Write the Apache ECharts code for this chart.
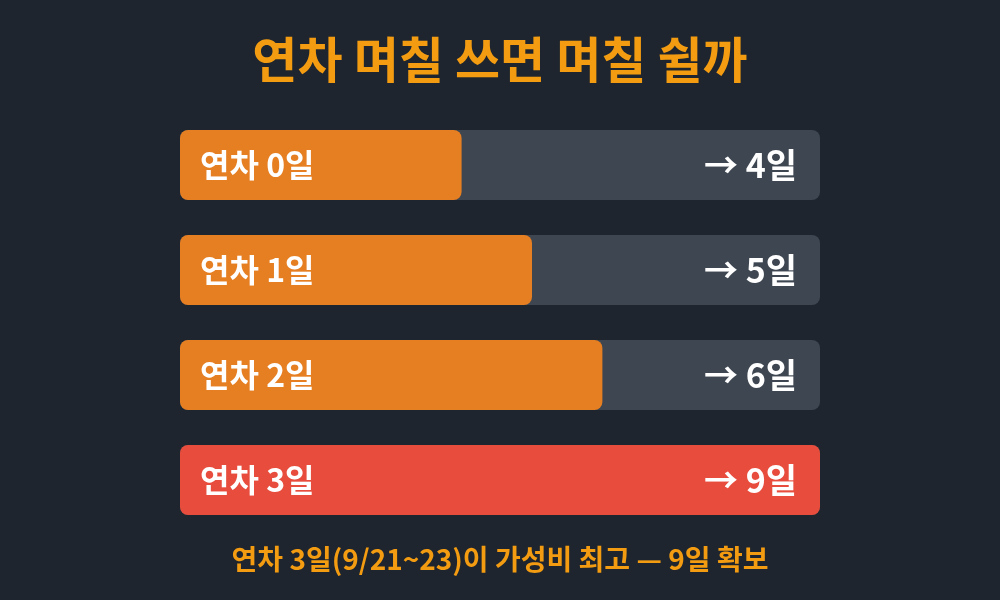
<!DOCTYPE html>
<html>
<head>
<meta charset="utf-8">
<script src="https://cdn.jsdelivr.net/npm/echarts@6/dist/echarts.min.js"></script>
<style>
  html, body { margin: 0; padding: 0; background: #1e252e; }
  #chart { width: 1000px; height: 600px; }
</style>
</head>
<body>
<div id="chart"></div>
<script>
// data
let leaveLabels = ['연차 0일', '연차 1일', '연차 2일', '연차 3일']
let restDays = [4, 5, 6, 9]
// 막대 길이(%) - 그림에서 읽은 값
let barPercent = [44, 55, 66, 100]
let barColors = ['#e67e22', '#e67e22', '#e67e22', '#e74c3c']

let myChart = echarts.init(document.getElementById('chart'))
let fontFamily = '"Noto Sans CJK KR", "Noto Sans", sans-serif'

let option = {
    backgroundColor: '#1e252e',
    textStyle: { fontFamily: fontFamily },
    title: [{
        text: '연차 며칠 쓰면 며칠 쉴까',
        left: 'center',
        top: 30,
        textStyle: { color: '#f39c12', fontSize: 49, fontWeight: 'bold', fontFamily: fontFamily }
    }, {
        text: '연차 3일(9/21~23)이 가성비 최고 — 9일 확보',
        left: 'center',
        top: 540,
        textStyle: { color: '#f39c12', fontSize: 28, fontWeight: 'bold', fontFamily: fontFamily }
    }],
    grid: { left: 180, right: 180, top: 112.5, height: 420 },
    xAxis: { type: 'value', min: 0, max: 100, show: false },
    yAxis: {
        type: 'category',
        data: leaveLabels,
        inverse: true,
        show: false
    },
    series: [{
        // 쉬는 날 막대
        type: 'bar',
        barWidth: 70,
        data: barPercent.map((v, i) => ({ value: v, itemStyle: { color: barColors[i] } })),
        itemStyle: { borderRadius: 8 },
        showBackground: true,
        backgroundStyle: { color: '#3d4651', borderRadius: 8 },
        label: {
            show: true,
            position: 'insideLeft',
            offset: [15, 0],
            formatter: p => leaveLabels[p.dataIndex],
            color: '#ffffff',
            fontSize: 32,
            fontWeight: 'bold',
            fontFamily: fontFamily
        },
        silent: true
    }, {
        // 오른쪽 결과 라벨용 투명 막대
        type: 'bar',
        barWidth: 70,
        barGap: '-100%',
        data: restDays.map(() => 100),
        itemStyle: { color: 'rgba(0,0,0,0)' },
        label: {
            show: true,
            position: 'insideRight',
            offset: [-18, 0],
            formatter: p => '→ ' + restDays[p.dataIndex] + '일',
            color: '#ffffff',
            fontSize: 34,
            fontWeight: 'bold',
            fontFamily: fontFamily
        },
        silent: true
    }]
}
myChart.setOption(option)
</script>
</body>
</html>
